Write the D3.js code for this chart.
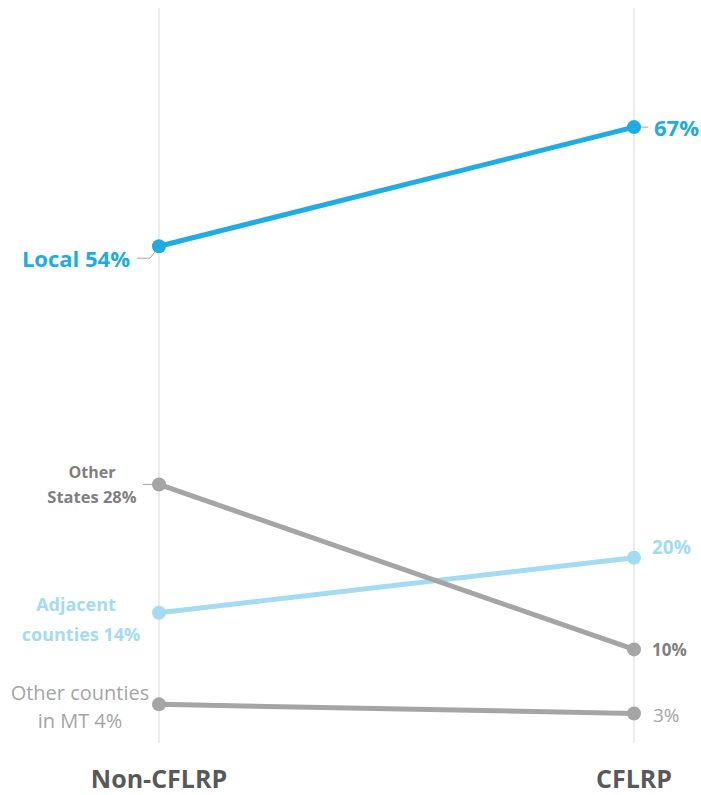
<!DOCTYPE html>
<html>
<head>
<meta charset="utf-8">
<script src="https://cdn.jsdelivr.net/npm/d3@7"></script>
<style>
  html, body { margin: 0; padding: 0; background: #fff; }
  svg { display: block; font-family: "Open Sans", "Noto Sans", sans-serif; }
</style>
</head>
<body>
<svg id="chart" width="701" height="795"></svg>
<script>
// Share of sales by buyer location, Non-CFLRP vs CFLRP
const periods = ["Non-CFLRP", "CFLRP"];
const seriesNames = ["Local", "Other States", "Adjacent counties", "Other counties in MT"];
const startValues = [54, 28, 14, 4];
const endValues = [67, 10, 20, 3];
const lineColors = ["#1eace3", "#a5a5a5", "#a3dbf3", "#a5a5a5"];

const svg = d3.select("#chart");

const x = d3.scalePoint().domain(periods).range([159, 634]);
const y = d3.scaleLinear().domain([0, 80]).range([741, 8]);

// vertical guides
svg.selectAll("line.guide")
  .data(periods)
  .enter().append("line")
  .attr("class", "guide")
  .attr("x1", d => x(d)).attr("x2", d => x(d))
  .attr("y1", y(80)).attr("y2", y(0) + 2)
  .attr("stroke", "#d9d9d9").attr("stroke-width", 1);

const series = seriesNames.map((name, i) => ({
  name, color: lineColors[i],
  points: [{p: periods[0], v: startValues[i]}, {p: periods[1], v: endValues[i]}]
}));

// leader ticks
const leader = (pts) => svg.append("polyline")
  .attr("points", pts.map(p => p.join(",")).join(" "))
  .attr("fill", "none").attr("stroke", "#a5a5a5").attr("stroke-width", 1);
leader([[137, y(54) + 12], [150, y(54) + 12], [x(periods[0]), y(54)]]);
leader([[143, y(28)], [x(periods[0]), y(28)]]);
leader([[x(periods[1]), y(67)], [648, y(67)]]);

const line = d3.line().x(d => x(d.p)).y(d => y(d.v));

// draw back-to-front so Local sits on top
const order = [3, 2, 1, 0];
order.forEach(i => {
  const s = series[i];
  svg.append("path")
    .datum(s.points)
    .attr("d", line)
    .attr("fill", "none")
    .attr("stroke", s.color)
    .attr("stroke-width", 5)
    .attr("stroke-linecap", "round");
  svg.selectAll(null)
    .data(s.points)
    .enter().append("circle")
    .attr("cx", d => x(d.p)).attr("cy", d => y(d.v))
    .attr("r", 7)
    .attr("fill", s.color);
});

// labels
const txt = (t, xx, yy, opts) => svg.append("text")
  .attr("x", xx).attr("y", yy)
  .attr("text-anchor", opts.anchor || "start")
  .attr("font-size", opts.size)
  .attr("font-weight", opts.weight || "normal")
  .attr("fill", opts.color)
  .text(t);

// Local
txt(`${seriesNames[0]} ${startValues[0]}%`, 130, y(54) + 21, {anchor: "end", size: 22, weight: "bold", color: "#1eace3"});
txt(`${endValues[0]}%`, 654, y(67) + 9, {size: 22, weight: "bold", color: "#1eace3"});

// Other States
txt("Other", 92, y(28) - 6, {anchor: "middle", size: 16, weight: "bold", color: "#7f7f7f"});
txt(`States ${startValues[1]}%`, 92, y(28) + 19, {anchor: "middle", size: 16.5, weight: "bold", color: "#7f7f7f"});
txt(`${endValues[1]}%`, 652, y(10) + 7, {size: 17, weight: "bold", color: "#7f7f7f"});

// Adjacent counties
txt("Adjacent", 76, y(14) - 2, {anchor: "middle", size: 18, weight: "bold", color: "#a3dbf3"});
txt(`counties ${startValues[2]}%`, 81, y(14) + 28, {anchor: "middle", size: 18, weight: "bold", color: "#a3dbf3"});
txt(`${endValues[2]}%`, 652, y(20) - 4, {size: 19, weight: "bold", color: "#a3dbf3"});

// Other counties in MT
txt("Other counties", 80, y(4) - 4, {anchor: "middle", size: 20, color: "#a5a5a5"});
txt(`in MT ${startValues[3]}%`, 80, y(4) + 24, {anchor: "middle", size: 20, color: "#a5a5a5"});
txt(`${endValues[3]}%`, 653, y(3) + 8, {size: 19, color: "#a5a5a5"});

// period labels
svg.selectAll("text.period")
  .data(periods)
  .enter().append("text")
  .attr("class", "period")
  .attr("x", d => x(d)).attr("y", 788)
  .attr("text-anchor", "middle")
  .attr("font-size", 25).attr("font-weight", "bold")
  .attr("fill", "#595959")
  .text(d => d);
</script>
</body>
</html>
